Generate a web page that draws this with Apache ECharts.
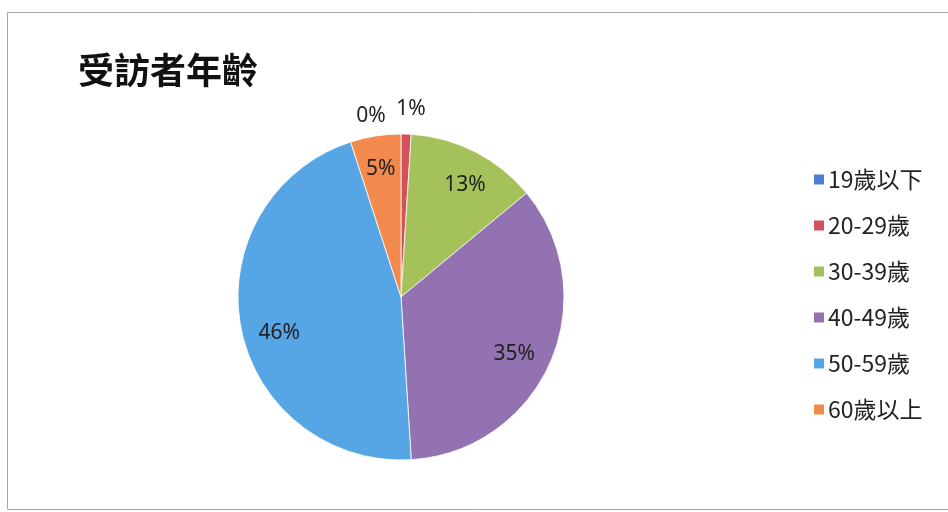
<!DOCTYPE html>
<html>
<head>
<meta charset="utf-8">
<script src="https://cdn.jsdelivr.net/npm/echarts@6/dist/echarts.min.js"></script>
<style>
  html, body { margin: 0; padding: 0; background: #fff; }
  #chart { width: 948px; height: 512px; }
</style>
</head>
<body>
<div id="chart"></div>
<script>
// Age groups of respondents (percent)
const categories = ['19歲以下', '20-29歲', '30-39歲', '40-49歲', '50-59歲', '60歲以上'];
const shares = [0, 1, 13, 35, 46, 5];
const colors = ['#4a80cf', '#d4505a', '#a5c15a', '#9272b0', '#56a6e6', '#f28a4d'];

// Small slices get their label outside the pie, the others inside
const outsideLabel = [true, true, false, false, false, false];

const CX = 401, CY = 297, R = 163;
const labelFont = { fontFamily: '"Noto Sans", sans-serif', fontSize: 21, color: '#222' };

// Fine adjustments so neighbouring labels sit comfortably
const labelNudge = {
  '19歲以下': [-30, 7],
  '20-29歲': [4, 0],
  '30-39歲': [5, 4],
  '40-49歲': [-6, 5],
  '50-59歲': [6, 12]
};

const sliceData = categories.map((name, i) => ({
  name, value: shares[i], itemStyle: { color: colors[i] }
}));

// Transparent companion rings that only place the labels
function labelRing(showOutside) {
  return categories.map((name, i) => ({
    name, value: shares[i],
    label: {
      show: outsideLabel[i] === showOutside,
      offset: labelNudge[name] || [0, 0]
    }
  }));
}

const chart = echarts.init(document.getElementById('chart'), null, { renderer: 'canvas' });
chart.setOption({
  backgroundColor: '#fff',
  animation: false,
  title: {
    text: '受訪者年齡',
    left: 73,
    top: 47,
    textStyle: {
      fontFamily: '"Noto Sans CJK TC", sans-serif',
      fontSize: 36,
      fontWeight: 'bold',
      color: '#111'
    }
  },
  legend: {
    orient: 'vertical',
    left: 807,
    top: 163,
    itemWidth: 12,
    itemHeight: 12,
    itemGap: 23,
    icon: 'rect',
    data: categories,
    textStyle: {
      fontFamily: '"Noto Sans CJK TC", sans-serif',
      fontSize: 23,
      color: '#222',
      padding: [0, 0, 0, -2]
    }
  },
  graphic: [{
    type: 'rect',
    silent: true,
    shape: { x: 7.5, y: 12.5, width: 960, height: 497 },
    style: { fill: 'none', stroke: '#a8a8a8', lineWidth: 1 }
  }],
  series: [
    {
      type: 'pie',
      center: [CX, CY],
      radius: [0, R],
      startAngle: 90,
      clockwise: true,
      label: { show: false },
      labelLine: { show: false },
      itemStyle: { borderColor: '#fff', borderWidth: 0.8 },
      emphasis: { disabled: true },
      data: sliceData
    },
    {
      type: 'pie',
      silent: true,
      legendHoverLink: false,
      center: [CX, CY],
      radius: [Math.round(R * 0.56), R],
      startAngle: 90,
      clockwise: true,
      itemStyle: { color: 'transparent' },
      label: Object.assign({ position: 'inside', formatter: '{c}%' }, labelFont),
      labelLine: { show: false },
      emphasis: { disabled: true },
      data: labelRing(false)
    },
    {
      type: 'pie',
      silent: true,
      legendHoverLink: false,
      center: [CX, CY],
      radius: [R + 4, R + 40],
      startAngle: 90,
      clockwise: true,
      itemStyle: { color: 'transparent' },
      label: Object.assign({ position: 'inside', formatter: '{c}%' }, labelFont),
      labelLine: { show: false },
      emphasis: { disabled: true },
      data: labelRing(true)
    }
  ]
});
</script>
</body>
</html>
